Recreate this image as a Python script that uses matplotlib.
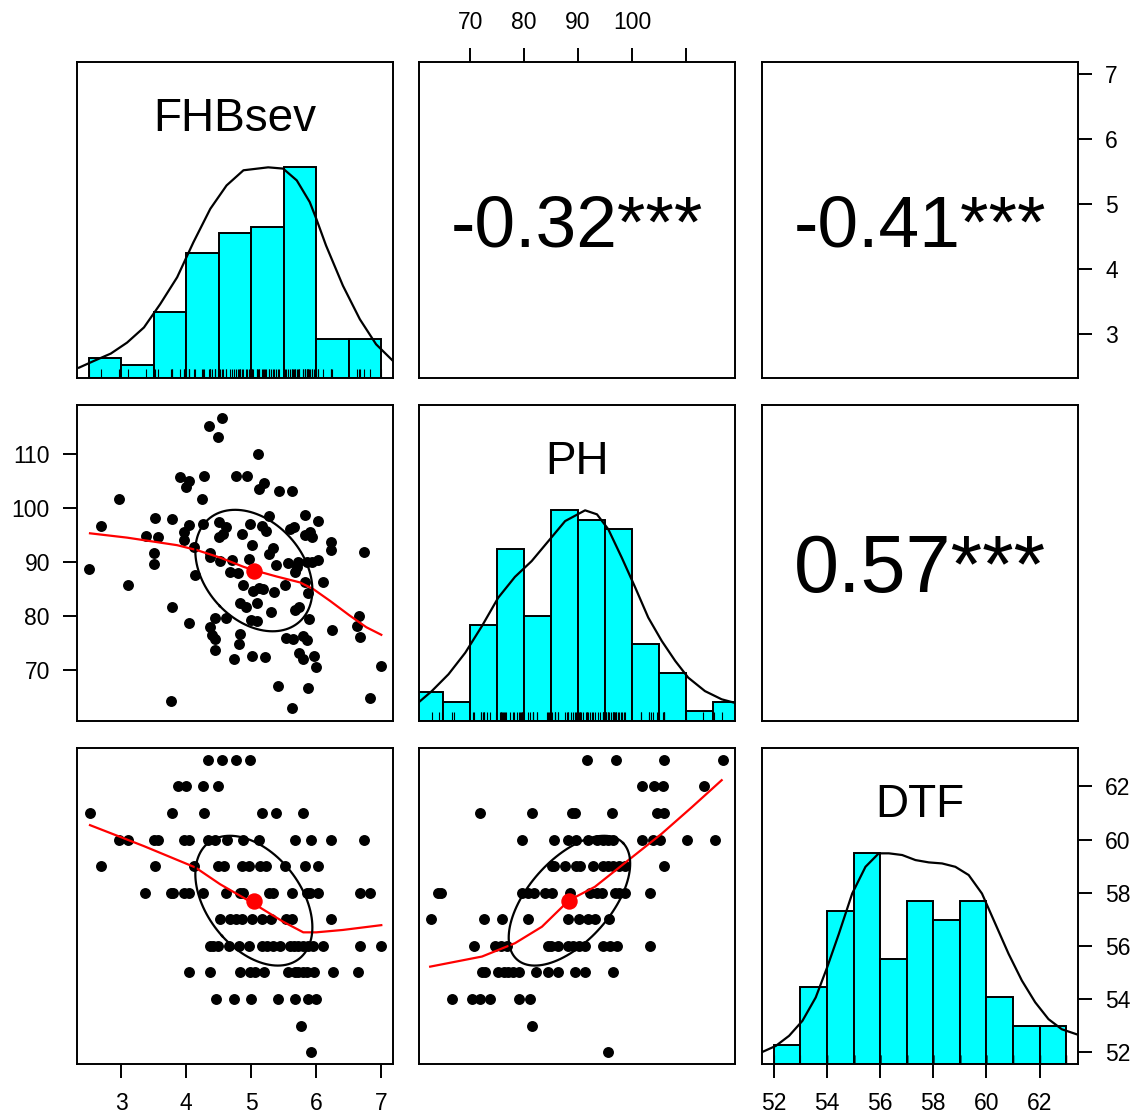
import numpy as np
import matplotlib.pyplot as plt

plt.rcParams['font.family'] = ['Liberation Sans', 'DejaVu Sans']

# pairs.panels style matrix: FHBsev, PH, DTF
names = ['FHBsev', 'PH', 'DTF']

# correlations shown in the upper panels
r_fhb_ph = -0.32
r_fhb_dtf = -0.41
r_ph_dtf = 0.57

# means and standard deviations (used for the correlation ellipses)
fhb_mean, fhb_sd = 5.04, 0.90
ph_mean, ph_sd = 88.4, 11.25
dtf_mean, dtf_sd = 57.7, 2.44

# --- scatter FHBsev (x) vs PH (y)
fhb_a = [4.55, 4.35, 4.49, 5.11, 3.91, 4.05, 4.00, 4.27, 4.77, 4.93,
         5.19, 5.12, 5.43, 5.62, 2.96, 4.25, 3.52, 3.78, 2.69, 4.05,
         4.26, 4.51, 4.61, 4.98, 5.16, 5.22, 5.28, 5.83, 6.02, 5.66,
         5.60, 3.96, 3.38, 3.57, 3.97, 4.50, 4.57, 4.85, 5.83, 5.93,
         5.90, 5.01, 5.33, 5.27, 4.12, 4.36, 4.36, 3.51, 3.51, 6.22,
         6.22, 4.52, 4.70, 4.96, 5.38, 5.57, 5.72, 5.85, 5.93, 6.02,
         5.67, 5.71, 4.67, 4.80, 6.73, 2.50, 4.14, 3.10, 4.87, 5.02,
         5.12, 5.18, 5.35, 5.52, 5.83, 5.88, 6.10, 4.83, 4.92, 5.09,
         5.31, 5.67, 5.73, 3.78, 4.04, 4.44, 4.61, 5.00, 5.09, 5.89,
         4.37, 4.40, 4.44, 4.45, 4.83, 4.81, 5.53, 5.64, 5.79, 5.85,
         6.24, 6.66, 6.63, 6.68, 4.73, 5.01, 5.21, 5.73, 5.79, 5.97,
         5.99, 7.00, 5.41, 5.88, 6.82, 3.76, 5.63]
ph_a = [116.7, 115.2, 113.2, 110.0, 105.7, 104.9, 103.9, 106.0, 106.0, 106.0,
        104.7, 103.6, 103.2, 103.2, 101.7, 101.7, 98.2, 98.0, 96.6, 96.9,
        97.1, 97.4, 96.4, 97.0, 96.6, 95.7, 98.5, 98.7, 97.5, 96.5,
        96.1, 95.6, 94.8, 94.7, 94.1, 94.7, 95.2, 95.2, 95.0, 94.7,
        95.6, 93.2, 92.5, 91.5, 92.8, 91.7, 90.9, 91.7, 89.7, 93.6,
        92.2, 90.1, 90.3, 90.5, 89.5, 89.8, 89.9, 89.9, 89.9, 90.4,
        88.2, 89.0, 88.2, 88.0, 91.8, 88.6, 87.5, 85.7, 85.7, 84.6,
        85.2, 85.0, 84.4, 85.7, 86.3, 84.2, 86.3, 82.4, 81.7, 82.3,
        80.7, 81.1, 81.7, 81.7, 78.6, 79.6, 79.7, 79.3, 79.0, 79.4,
        77.9, 76.5, 75.7, 73.7, 76.7, 74.8, 75.9, 75.7, 76.3, 75.6,
        77.4, 79.9, 78.2, 76.1, 72.0, 72.6, 72.4, 73.1, 72.0, 72.6,
        70.5, 70.7, 67.0, 66.7, 64.8, 64.2, 62.9]

# --- scatter FHBsev (x) vs DTF (y)
fhb_b = [4.34, 4.55, 4.77, 4.98,
         3.88, 3.99, 4.26, 4.49,
         2.52, 3.78, 4.27, 5.17, 5.38, 5.80,
         2.96, 3.11, 3.50, 3.57, 3.96, 4.05, 4.34, 4.44, 4.62, 4.88, 5.12, 5.67, 5.92, 6.22, 6.73,
         2.69, 3.52, 4.12, 4.49, 4.58, 4.86, 4.96, 5.13, 5.22, 5.52, 5.83, 6.02,
         3.37, 3.76, 3.80, 3.97, 4.05, 4.26, 4.61, 4.83, 4.88, 5.28, 5.34, 5.62, 5.85, 5.90, 6.02, 6.67, 6.82,
         4.52, 4.68, 4.77, 4.85, 5.01, 5.16, 5.31, 5.53, 5.63, 6.22,
         4.37, 4.41, 4.49, 4.66, 4.81, 4.96, 5.16, 5.24, 5.34, 5.44, 5.59, 5.65, 5.72, 5.80, 5.87, 5.95, 6.10, 6.68, 7.00,
         4.04, 4.36, 4.82, 4.98, 5.06, 5.20, 5.56, 5.67, 5.72, 5.80, 5.85, 5.97, 6.25, 6.64,
         4.46, 4.73, 5.00, 5.41, 5.68, 5.87, 5.99,
         5.76,
         5.92]
dtf_b = [63] * 4 + [62] * 4 + [61] * 6 + [60] * 15 + [59] * 12 + [58] * 17 + \
        [57] * 10 + [56] * 19 + [55] * 14 + [54] * 7 + [53] * 1 + [52] * 1

# --- scatter PH (x) vs DTF (y)
ph_c = [91.7, 97.0, 106.0, 116.9,
        101.8, 104.0, 105.7, 113.3,
        71.9, 81.5, 88.8, 89.4, 96.2, 104.6, 106.0,
        79.6, 85.6, 88.1, 89.6, 91.8, 93.5, 94.7, 95.6, 96.4, 101.8, 103.8, 105.2, 110.1, 115.4,
        85.2, 85.6, 87.5, 89.6, 90.4, 92.7, 94.7, 95.5, 96.4, 97.6, 98.6, 106.0,
        64.1, 64.6, 79.6, 80.8, 81.9, 83.9, 85.1, 88.5, 92.2, 93.5, 94.4, 96.9, 97.6, 98.7, 103.3,
        62.7, 72.5, 75.9, 80.7, 88.1, 90.1, 91.9, 93.1, 95.7,
        70.7, 74.6, 75.7, 76.8, 84.4, 85.0, 86.2, 88.2, 89.1, 90.2, 91.3, 94.7, 95.9, 97.2, 103.3,
        72.2, 72.8, 75.2, 76.2, 77.1, 78.0, 79.0, 82.2, 84.5, 86.2, 89.4, 91.2, 96.5,
        66.7, 70.4, 71.9, 73.6, 79.1, 81.1,
        81.5,
        95.6]
dtf_c = [63] * 4 + [62] * 4 + [61] * 7 + [60] * 14 + [59] * 12 + [58] * 15 + \
        [57] * 9 + [56] * 15 + [55] * 13 + [54] * 6 + [53] * 1 + [52] * 1

# --- loess smooths
loess_a_x = [2.52, 3.09, 3.86, 4.16, 4.52, 4.88, 5.03, 5.39, 5.75, 5.95, 6.21, 6.51, 6.77, 7.00]
loess_a_y = [95.3, 94.5, 93.1, 92.2, 90.8, 89.1, 88.5, 87.3, 86.2, 85.0, 82.8, 80.1, 77.9, 76.5]
loess_b_x = [2.52, 3.35, 4.14, 4.52, 5.03, 5.49, 5.80, 6.00, 6.41, 7.00]
loess_b_y = [60.54, 59.75, 58.95, 58.32, 57.60, 56.91, 56.51, 56.51, 56.60, 56.78]
loess_c_x = [62.6, 72.2, 78.3, 83.3, 88.3, 93.1, 99.3, 105.5, 111.1, 116.6]
loess_c_y = [55.22, 55.60, 56.10, 56.72, 57.71, 58.22, 59.22, 60.22, 61.22, 62.23]

# --- histograms (bin edges and counts)
fhb_edges = [2.5, 3.0, 3.5, 4.0, 4.5, 5.0, 5.5, 6.0, 6.5, 7.0]
fhb_counts = [3, 2, 10, 19, 22, 23, 32, 6, 6]
ph_edges = [60, 65, 70, 75, 80, 85, 90, 95, 100, 105, 110, 115, 120]
ph_counts = [3, 2, 10, 18, 11, 22, 21, 20, 8, 5, 1, 2]
dtf_edges = [52, 53, 54, 55, 56, 57, 58, 59, 60, 61, 62, 63]
dtf_counts = [2, 8, 16, 22, 11, 17, 15, 17, 7, 4, 4]

# --- density curves, scaled to max 1
fhb_dens_x = [2.35, 2.58, 2.84, 3.09, 3.35, 3.60, 3.86, 4.11, 4.37, 4.62, 4.88,
              5.26, 5.49, 5.70, 5.90, 6.00, 6.15, 6.41, 6.67, 6.92, 7.18]
fhb_dens_y = [0.049, 0.081, 0.116, 0.168, 0.240, 0.351, 0.478, 0.644, 0.803, 0.914, 0.986,
              1.000, 0.994, 0.938, 0.835, 0.756, 0.629, 0.438, 0.279, 0.160, 0.081]
ph_dens_x = [60.4, 62.9, 66.0, 69.1, 72.2, 75.2, 78.3, 81.4, 84.5, 87.6, 91.3,
             93.5, 95.6, 98.1, 100.6, 103.0, 105.5, 108.0, 110.4, 113.5, 116.6, 118.9]
ph_dens_y = [0.087, 0.142, 0.222, 0.324, 0.451, 0.585, 0.684, 0.759, 0.854, 0.949, 1.000,
             0.981, 0.910, 0.775, 0.633, 0.491, 0.380, 0.285, 0.206, 0.142, 0.103, 0.087]
dtf_dens_x = [51.57, 52.08, 52.58, 53.08, 53.58, 54.01, 54.45, 54.95, 55.45, 55.95, 56.33,
              56.83, 57.33, 57.83, 58.33, 58.83, 59.33, 59.83, 60.33, 60.83, 61.33,
              61.83, 62.33, 62.83, 63.39]
dtf_dens_y = [0.057, 0.086, 0.134, 0.205, 0.316, 0.459, 0.618, 0.809, 0.936, 1.000, 1.000,
              0.992, 0.968, 0.957, 0.952, 0.936, 0.897, 0.809, 0.666, 0.523, 0.396,
              0.293, 0.213, 0.165, 0.141]


def lims(*vals):
    v = np.concatenate([np.asarray(a, float) for a in vals])
    lo, hi = v.min(), v.max()
    pad = 0.04 * (hi - lo)
    return lo - pad, hi + pad


fhb_lim = lims(fhb_a, fhb_b)
ph_lim = lims(ph_a, ph_c)
dtf_lim = lims(dtf_b, dtf_c)

W, H = 1137, 1120
fig = plt.figure(figsize=(W / 100, H / 100), dpi=100)
lefts = [77, 419, 762]
tops = [62, 405, 748]
size = 316
axes = [[fig.add_axes([lefts[j] / W, 1 - (tops[i] + size) / H, size / W, size / H])
         for j in range(3)] for i in range(3)]

lw = 1.4
line_w = 1.6
tick_kw = dict(labelsize=16.5, length=10, width=lw, direction='out')
for row in axes:
    for ax in row:
        ax.set_xticks([])
        ax.set_yticks([])
        for s in ax.spines.values():
            s.set_linewidth(lw)


def hist_panel(ax, edges, counts, dens_x, dens_y, rug, name, xlim):
    counts = np.asarray(counts, float)
    h = counts / counts.max()
    ax.bar(edges[:-1], h, width=np.diff(edges), align='edge',
           color='cyan', edgecolor='black', linewidth=lw, zorder=1)
    ax.vlines(rug, 0, 0.045, color='black', linewidth=0.8, zorder=2)
    ax.plot(dens_x, dens_y, color='black', linewidth=line_w, zorder=3)
    ax.text(0.5, 0.782, name, transform=ax.transAxes, ha='center',
            va='baseline', fontsize=33)
    ax.set_xlim(xlim)
    ax.set_ylim(0, 1.5)


def ellipse_xy(xm, ym, xs, ys, r):
    t = np.linspace(0, 2 * np.pi, 121)
    th = np.sign(r) / np.sqrt(2)
    a, b = np.sqrt(1 + r), np.sqrt(1 - r)
    ex = np.cos(t) * a * th - np.sin(t) * b * th
    ey = np.cos(t) * a * th + np.sin(t) * b * th
    return xm + ex * xs, ym + ey * ys


def scatter_panel(ax, x, y, lx, ly, xm, ym, xs, ys, r, xlim, ylim):
    ax.scatter(x, y, s=62, c='black', linewidths=0, zorder=2)
    ax.plot(lx, ly, color='red', linewidth=line_w, zorder=3)
    ex, ey = ellipse_xy(xm, ym, xs, ys, r)
    ax.plot(ex, ey, color='black', linewidth=line_w, zorder=3)
    ax.scatter([xm], [ym], s=140, c='red', linewidths=0, zorder=4)
    ax.set_xlim(xlim)
    ax.set_ylim(ylim)


def cor_panel(ax, r, xlim, ylim):
    ax.set_xlim(xlim)
    ax.set_ylim(ylim)
    return ax.text(0.5, 0.5, '{:.2f}***'.format(r), transform=ax.transAxes,
                   ha='center', va='baseline', fontsize=50)


hist_panel(axes[0][0], fhb_edges, fhb_counts, fhb_dens_x, fhb_dens_y, fhb_a, 'FHBsev', fhb_lim)
hist_panel(axes[1][1], ph_edges, ph_counts, ph_dens_x, ph_dens_y, ph_a, 'PH', ph_lim)
hist_panel(axes[2][2], dtf_edges, dtf_counts, dtf_dens_x, dtf_dens_y, dtf_b, 'DTF', dtf_lim)

scatter_panel(axes[1][0], fhb_a, ph_a, loess_a_x, loess_a_y,
              fhb_mean, ph_mean, fhb_sd, ph_sd, r_fhb_ph, fhb_lim, ph_lim)
scatter_panel(axes[2][0], fhb_b, dtf_b, loess_b_x, loess_b_y,
              fhb_mean, dtf_mean, fhb_sd, dtf_sd, r_fhb_dtf, fhb_lim, dtf_lim)
scatter_panel(axes[2][1], ph_c, dtf_c, loess_c_x, loess_c_y,
              ph_mean, dtf_mean, ph_sd, dtf_sd, r_ph_dtf, ph_lim, dtf_lim)

cor_texts = [cor_panel(axes[0][1], r_fhb_ph, ph_lim, fhb_lim),
             cor_panel(axes[0][2], r_fhb_dtf, dtf_lim, fhb_lim),
             cor_panel(axes[1][2], r_ph_dtf, dtf_lim, ph_lim)]

# axes on alternating sides, as in R pairs()
fhb_ticks = [3, 4, 5, 6, 7]
ph_ticks = [70, 80, 90, 100, 110]
dtf_ticks = [52, 54, 56, 58, 60, 62]

ax = axes[2][0]
ax.set_xticks(fhb_ticks)
ax.tick_params(axis='x', bottom=True, pad=10, **tick_kw)

ax = axes[2][2]
ax.set_xticks(dtf_ticks)
ax.tick_params(axis='x', bottom=True, pad=10, **tick_kw)
ax2 = ax.twinx()
ax2.set_ylim(dtf_lim)
ax2.set_yticks(dtf_ticks)
ax2.tick_params(axis='y', right=True, pad=9.5, **tick_kw)
for s in ax2.spines.values():
    s.set_visible(False)

ax = axes[0][1]
ax.set_xticks(ph_ticks)
ax.set_xticklabels(['70', '80', '90', '100', ''])
ax.xaxis.tick_top()
ax.tick_params(axis='x', top=True, bottom=False, pad=10, **tick_kw)

ax = axes[1][0]
ax.set_yticks(ph_ticks)
ax.tick_params(axis='y', left=True, pad=9.5, **tick_kw)

ax = axes[0][2]
ax.set_yticks(fhb_ticks)
ax.yaxis.tick_right()
ax.tick_params(axis='y', right=True, left=False, pad=9.5, **tick_kw)

# correlation text fills 80% of the panel width, digits centred vertically
fig.canvas.draw()
renderer = fig.canvas.get_renderer()
for t in cor_texts:
    wpx = t.get_window_extent(renderer).width
    fs = t.get_fontsize() * 0.8 * size / wpx
    t.set_fontsize(fs)
    cap = fs * 100 / 72 * 0.716
    t.set_y(0.5 - cap / 2 / size)

fig.savefig('out.png', dpi=100)
